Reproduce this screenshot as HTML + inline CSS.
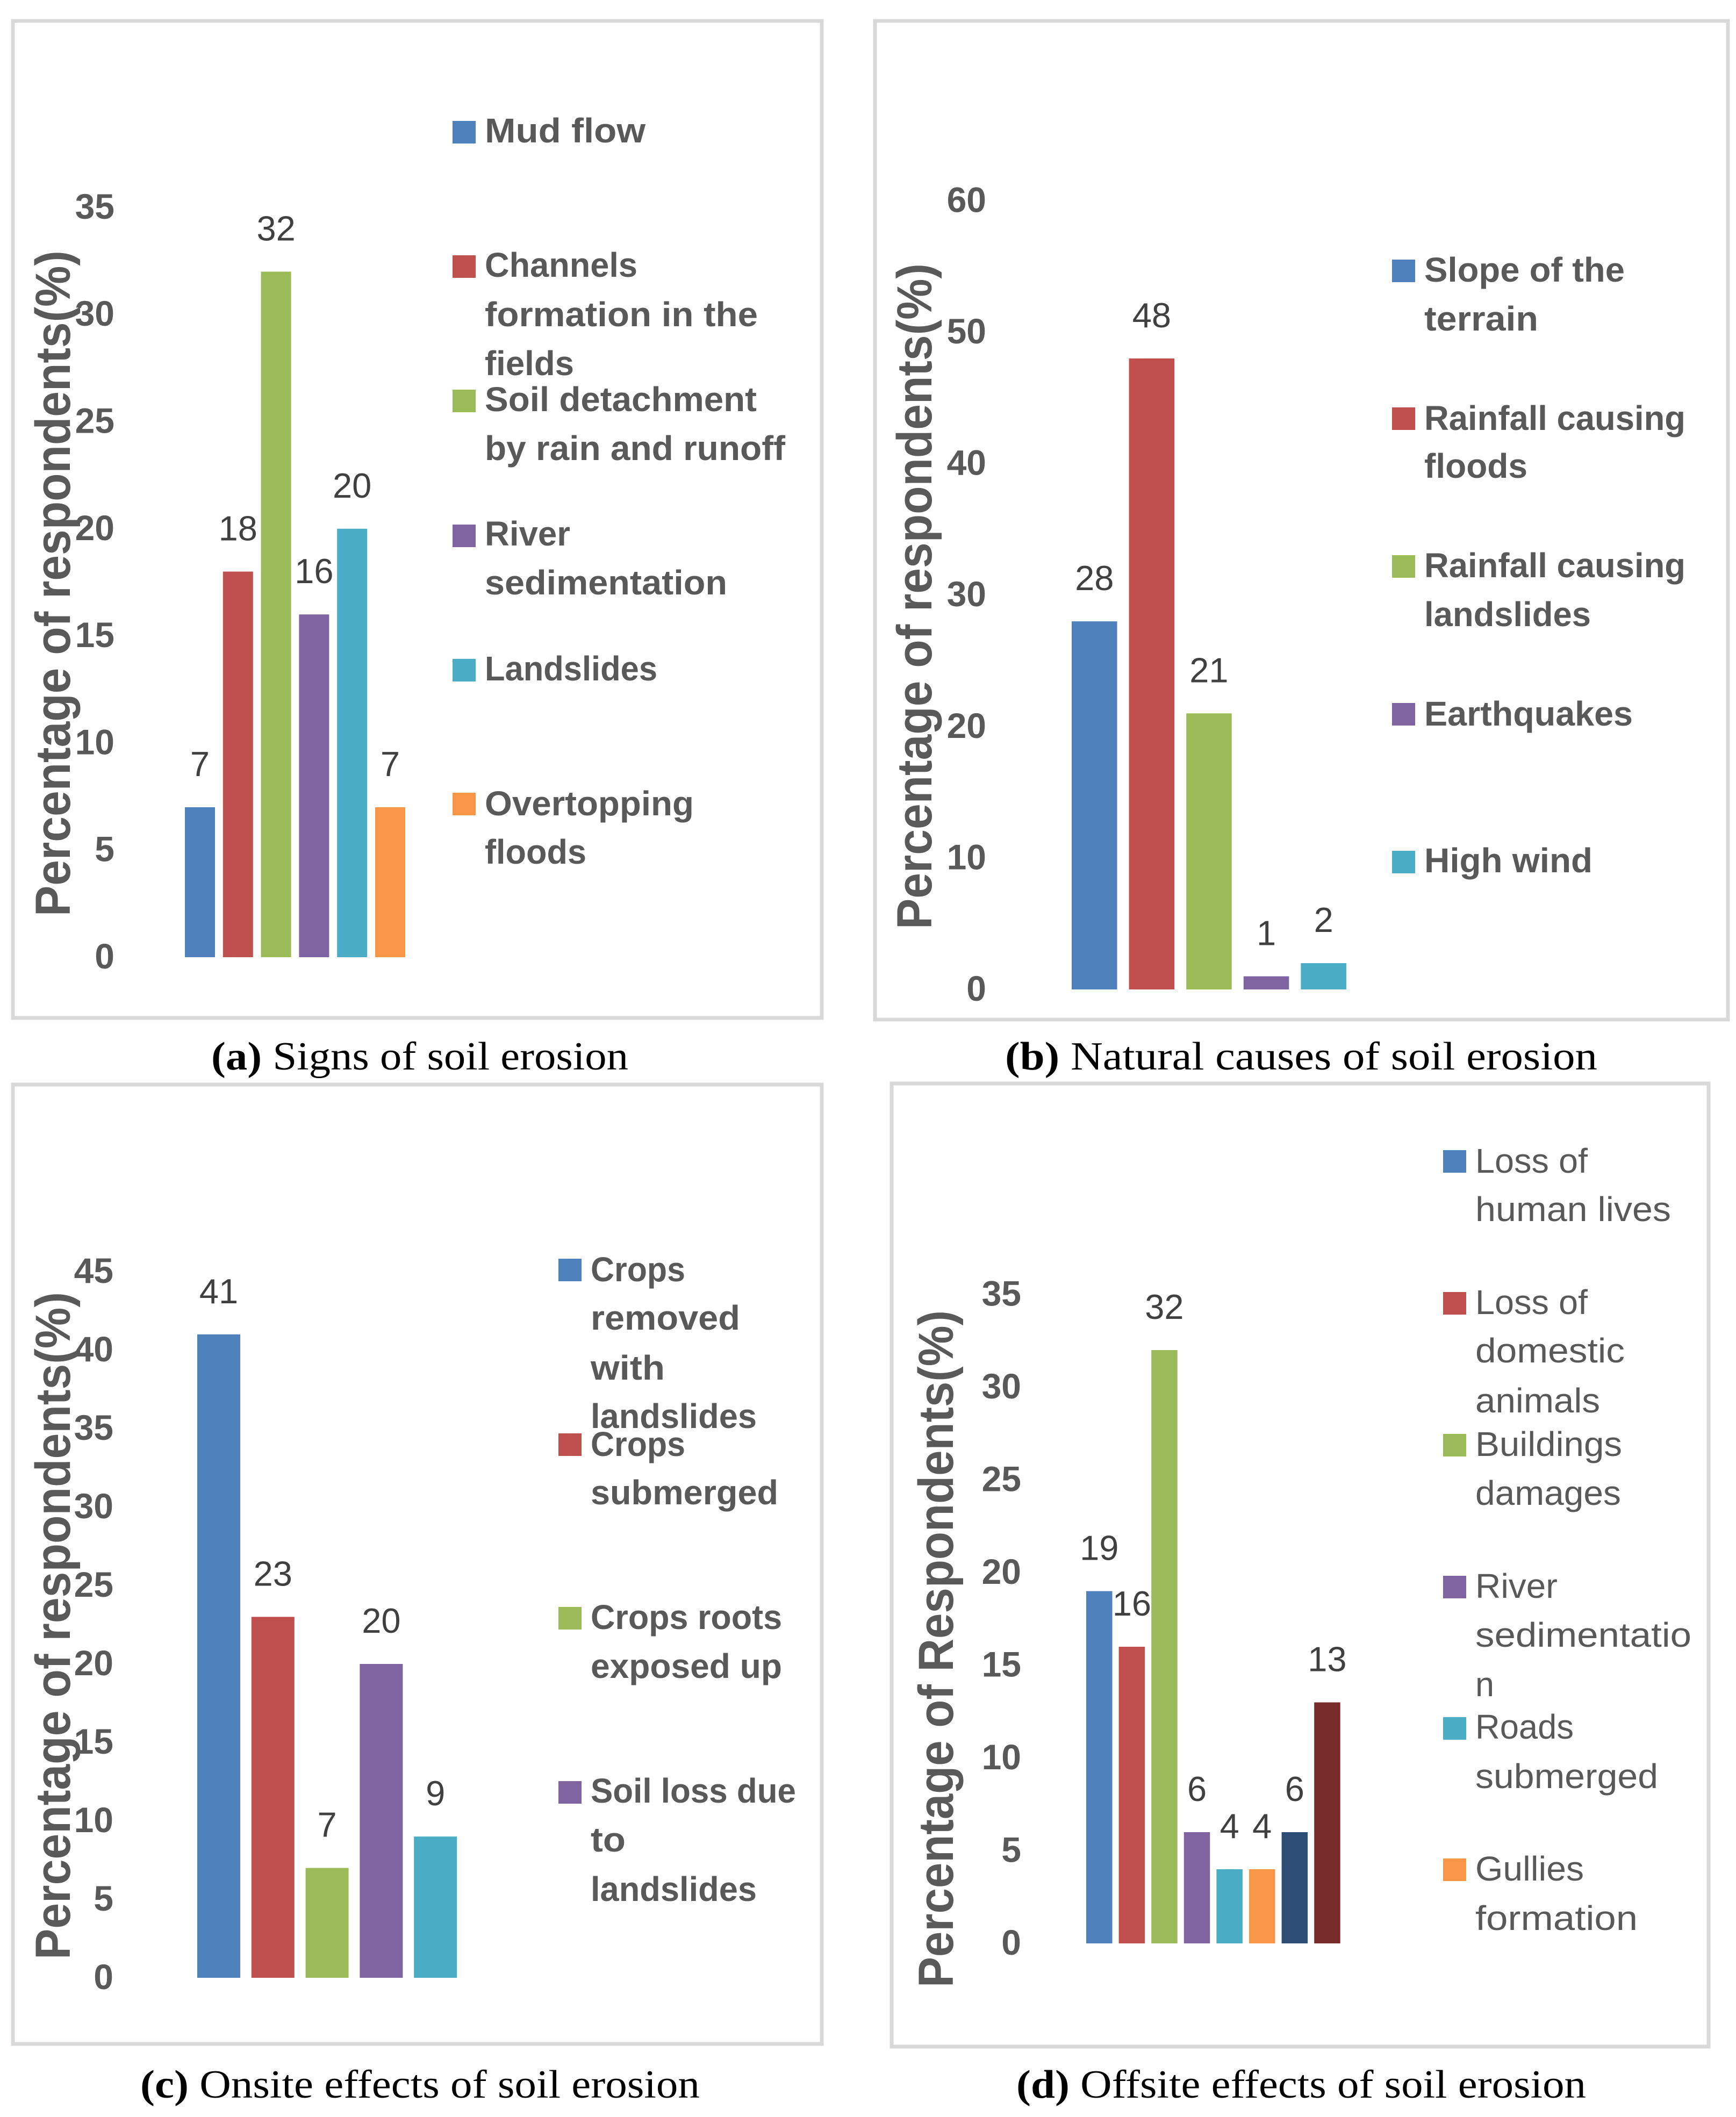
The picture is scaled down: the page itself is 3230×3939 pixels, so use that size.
<!DOCTYPE html>
<html lang="en">
<head>
<meta charset="utf-8">
<title>Soil erosion survey charts</title>
<style>
html,body{margin:0;padding:0;background:#fff;width:3230px;height:3939px;overflow:hidden}
svg{display:block}
.panel{fill:#fff;stroke:#d9d9d9;stroke-width:7}
.leg{font-family:"Liberation Sans",sans-serif;font-weight:700;font-size:64px;fill:#595959}
.legr{font-family:"Liberation Sans",sans-serif;font-weight:400;font-size:64px;fill:#595959}
.ttl{font-family:"Liberation Sans",sans-serif;font-weight:700;font-size:92px;fill:#595959}
.cap{font-family:"Liberation Serif",serif;font-size:74px;fill:#000}
.cap tspan{font-weight:700}
.tick{font-family:"Liberation Sans",sans-serif;font-weight:700;font-size:66px;fill:#595959;text-anchor:end}
.val{font-family:"Liberation Sans",sans-serif;font-weight:400;font-size:65px;fill:#404040;text-anchor:middle}
</style>
</head>
<body>
<svg id="figure" xmlns="http://www.w3.org/2000/svg" width="3230" height="3939" viewBox="0 0 3230 3939">
  <rect class="panel" x="24" y="39" width="1505" height="1855"/>
  <rect class="panel" x="1628" y="39" width="1587" height="1858"/>
  <rect class="panel" x="24" y="2018" width="1505" height="1785"/>
  <rect class="panel" x="1659" y="2016" width="1520" height="1792"/>

  <text class="ttl" transform="translate(130,1705) rotate(-90)" textLength="1239" lengthAdjust="spacingAndGlyphs">Percentage of respondents(%)</text>
  <text class="ttl" transform="translate(1733,1729) rotate(-90)" textLength="1239" lengthAdjust="spacingAndGlyphs">Percentage of respondents(%)</text>
  <text class="ttl" transform="translate(130,3646) rotate(-90)" textLength="1242" lengthAdjust="spacingAndGlyphs">Percentage of respondents(%)</text>
  <text class="ttl" transform="translate(1773,3698) rotate(-90)" textLength="1260" lengthAdjust="spacingAndGlyphs">Percentage of Respondents(%)</text>

  <g id="charts"></g>

  <g>
    <rect x="842" y="225" width="43" height="42" fill="#4F81BD"/>
    <text class="leg" x="902" y="265" textLength="299" lengthAdjust="spacingAndGlyphs">Mud flow</text>
    <rect x="842" y="475" width="43" height="42" fill="#C0504D"/>
    <text class="leg" x="902" y="515" textLength="284" lengthAdjust="spacingAndGlyphs">Channels</text>
    <text class="leg" x="902" y="607" textLength="508" lengthAdjust="spacingAndGlyphs">formation in the</text>
    <text class="leg" x="902" y="698" textLength="166" lengthAdjust="spacingAndGlyphs">fields</text>
    <rect x="842" y="725" width="43" height="42" fill="#9BBB59"/>
    <text class="leg" x="902" y="765" textLength="506" lengthAdjust="spacingAndGlyphs">Soil detachment</text>
    <text class="leg" x="902" y="856" textLength="559" lengthAdjust="spacingAndGlyphs">by rain and runoff</text>
    <rect x="842" y="976" width="43" height="42" fill="#8064A2"/>
    <text class="leg" x="902" y="1015" textLength="159" lengthAdjust="spacingAndGlyphs">River</text>
    <text class="leg" x="902" y="1106" textLength="451" lengthAdjust="spacingAndGlyphs">sedimentation</text>
    <rect x="842" y="1226" width="43" height="42" fill="#4BACC6"/>
    <text class="leg" x="902" y="1266" textLength="321" lengthAdjust="spacingAndGlyphs">Landslides</text>
    <rect x="842" y="1475" width="43" height="42" fill="#F79646"/>
    <text class="leg" x="902" y="1517" textLength="389" lengthAdjust="spacingAndGlyphs">Overtopping</text>
    <text class="leg" x="902" y="1607" textLength="189" lengthAdjust="spacingAndGlyphs">floods</text>
  </g>

  <g>
    <rect x="2590" y="483" width="43" height="42" fill="#4F81BD"/>
    <text class="leg" x="2650" y="524" textLength="373" lengthAdjust="spacingAndGlyphs">Slope of the</text>
    <text class="leg" x="2650" y="615" textLength="212" lengthAdjust="spacingAndGlyphs">terrain</text>
    <rect x="2590" y="758" width="43" height="42" fill="#C0504D"/>
    <text class="leg" x="2650" y="800" textLength="486" lengthAdjust="spacingAndGlyphs">Rainfall causing</text>
    <text class="leg" x="2650" y="889" textLength="192" lengthAdjust="spacingAndGlyphs">floods</text>
    <rect x="2590" y="1033" width="43" height="42" fill="#9BBB59"/>
    <text class="leg" x="2650" y="1074" textLength="486" lengthAdjust="spacingAndGlyphs">Rainfall causing</text>
    <text class="leg" x="2650" y="1165" textLength="310" lengthAdjust="spacingAndGlyphs">landslides</text>
    <rect x="2590" y="1308" width="43" height="42" fill="#8064A2"/>
    <text class="leg" x="2650" y="1350" textLength="388" lengthAdjust="spacingAndGlyphs">Earthquakes</text>
    <rect x="2590" y="1583" width="43" height="42" fill="#4BACC6"/>
    <text class="leg" x="2650" y="1623" textLength="313" lengthAdjust="spacingAndGlyphs">High wind</text>
  </g>

  <g>
    <rect x="1039" y="2342" width="43" height="42" fill="#4F81BD"/>
    <text class="leg" x="1099" y="2384" textLength="176" lengthAdjust="spacingAndGlyphs">Crops</text>
    <text class="leg" x="1099" y="2474" textLength="278" lengthAdjust="spacingAndGlyphs">removed</text>
    <text class="leg" x="1099" y="2567" textLength="138" lengthAdjust="spacingAndGlyphs">with</text>
    <text class="leg" x="1099" y="2657" textLength="309" lengthAdjust="spacingAndGlyphs">landslides</text>
    <rect x="1039" y="2667" width="43" height="42" fill="#C0504D"/>
    <text class="leg" x="1099" y="2709" textLength="176" lengthAdjust="spacingAndGlyphs">Crops</text>
    <text class="leg" x="1099" y="2799" textLength="349" lengthAdjust="spacingAndGlyphs">submerged</text>
    <rect x="1039" y="2990" width="43" height="42" fill="#9BBB59"/>
    <text class="leg" x="1099" y="3031" textLength="356" lengthAdjust="spacingAndGlyphs">Crops roots</text>
    <text class="leg" x="1099" y="3122" textLength="356" lengthAdjust="spacingAndGlyphs">exposed up</text>
    <rect x="1039" y="3314" width="43" height="42" fill="#8064A2"/>
    <text class="leg" x="1099" y="3354" textLength="382" lengthAdjust="spacingAndGlyphs">Soil loss due</text>
    <text class="leg" x="1099" y="3445" textLength="65" lengthAdjust="spacingAndGlyphs">to</text>
    <text class="leg" x="1099" y="3537" textLength="309" lengthAdjust="spacingAndGlyphs">landslides</text>
  </g>

  <g>
    <rect x="2685" y="2140" width="43" height="42" fill="#4F81BD"/>
    <text class="legr" x="2745" y="2182" textLength="209" lengthAdjust="spacingAndGlyphs">Loss of</text>
    <text class="legr" x="2745" y="2272" textLength="364" lengthAdjust="spacingAndGlyphs">human lives</text>
    <rect x="2685" y="2404" width="43" height="42" fill="#C0504D"/>
    <text class="legr" x="2745" y="2445" textLength="209" lengthAdjust="spacingAndGlyphs">Loss of</text>
    <text class="legr" x="2745" y="2535" textLength="278" lengthAdjust="spacingAndGlyphs">domestic</text>
    <text class="legr" x="2745" y="2628" textLength="232" lengthAdjust="spacingAndGlyphs">animals</text>
    <rect x="2685" y="2668" width="43" height="42" fill="#9BBB59"/>
    <text class="legr" x="2745" y="2709" textLength="273" lengthAdjust="spacingAndGlyphs">Buildings</text>
    <text class="legr" x="2745" y="2800" textLength="271" lengthAdjust="spacingAndGlyphs">damages</text>
    <rect x="2685" y="2932" width="43" height="42" fill="#8064A2"/>
    <text class="legr" x="2745" y="2973" textLength="153" lengthAdjust="spacingAndGlyphs">River</text>
    <text class="legr" x="2745" y="3064" textLength="402" lengthAdjust="spacingAndGlyphs">sedimentatio</text>
    <text class="legr" x="2745" y="3156" textLength="35" lengthAdjust="spacingAndGlyphs">n</text>
    <rect x="2685" y="3195" width="43" height="42" fill="#4BACC6"/>
    <text class="legr" x="2745" y="3235" textLength="183" lengthAdjust="spacingAndGlyphs">Roads</text>
    <text class="legr" x="2745" y="3327" textLength="340" lengthAdjust="spacingAndGlyphs">submerged</text>
    <rect x="2685" y="3458" width="43" height="42" fill="#F79646"/>
    <text class="legr" x="2745" y="3499" textLength="202" lengthAdjust="spacingAndGlyphs">Gullies</text>
    <text class="legr" x="2745" y="3591" textLength="302" lengthAdjust="spacingAndGlyphs">formation</text>
  </g>

  <text class="cap" x="393" y="1990" textLength="776" lengthAdjust="spacingAndGlyphs"><tspan>(a)</tspan> Signs of soil erosion</text>
  <text class="cap" x="1870" y="1990" textLength="1102" lengthAdjust="spacingAndGlyphs"><tspan>(b)</tspan> Natural causes of soil erosion</text>
  <text class="cap" x="261" y="3903" textLength="1041" lengthAdjust="spacingAndGlyphs"><tspan>(c)</tspan> Onsite effects of soil erosion</text>
  <text class="cap" x="1891" y="3903" textLength="1060" lengthAdjust="spacingAndGlyphs"><tspan>(d)</tspan> Offsite effects of soil erosion</text>
</svg>

<script>
// Chart data
var signsCategories = ["mud-flow","channels","soil-detachment","river-sedimentation","landslides","overtopping"];
var signsValues = [7,18,32,16,20,7];
var signsTicks = [0,5,10,15,20,25,30,35];

var naturalCategories = ["slope","rainfall-floods","rainfall-landslides","earthquakes","high-wind"];
var naturalValues = [28,48,21,1,2];
var naturalTicks = [0,10,20,30,40,50,60];

var onsiteCategories = ["crops-removed","crops-submerged","crops-roots","soil-loss","other"];
var onsiteValues = [41,23,7,20,9];
var onsiteTicks = [0,5,10,15,20,25,30,35,40,45];

var offsiteCategories = ["human-lives","domestic-animals","buildings","river-sedimentation","roads","gullies","other-1","other-2"];
var offsiteValues = [19,16,32,6,4,4,6,13];
var offsiteTicks = [0,5,10,15,20,25,30,35];

var seriesColors = ["#4F81BD","#C0504D","#9BBB59","#8064A2","#4BACC6","#F79646","#2C4D75","#772C2A"];

var SVGNS = "http://www.w3.org/2000/svg";
var host = document.getElementById("charts");

function drawChart(prefix, categories, values, ticks, layout) {
  function yScale(v) { return layout.baseY - v * layout.unit; }
  function xScale(i) { return layout.startX + i * layout.step; }

  ticks.forEach(function (t) {
    var label = document.createElementNS(SVGNS, "text");
    
    
    label.setAttribute("class", "tick");
    label.setAttribute("x", layout.tickX);
    label.setAttribute("y", yScale(t) + 21);
    label.textContent = String(t);
    host.appendChild(label);
  });

  values.forEach(function (v, i) {
    var bar = document.createElementNS(SVGNS, "rect");
    
    
    bar.setAttribute("x", xScale(i));
    bar.setAttribute("y", yScale(v));
    bar.setAttribute("width", layout.barW);
    bar.setAttribute("height", layout.baseY - yScale(v));
    bar.setAttribute("fill", seriesColors[i]);
    host.appendChild(bar);

    var val = document.createElementNS(SVGNS, "text");
    
    
    val.setAttribute("class", "val");
    val.setAttribute("x", xScale(i) + layout.barW / 2);
    val.setAttribute("y", yScale(v) - 58);
    val.textContent = String(v);
    host.appendChild(val);
  });
}

drawChart("a", signsCategories, signsValues, signsTicks,
  {baseY:1781, unit:39.86, startX:344, step:70.8, barW:56, tickX:213});
drawChart("b", naturalCategories, naturalValues, naturalTicks,
  {baseY:1841, unit:24.46, startX:1994, step:106.6, barW:84.5, tickX:1835});
drawChart("c", onsiteCategories, onsiteValues, onsiteTicks,
  {baseY:3680, unit:29.2, startX:367, step:100.8, barW:80, tickX:211});
drawChart("d", offsiteCategories, offsiteValues, offsiteTicks,
  {baseY:3616, unit:34.5, startX:2021, step:60.6, barW:48.5, tickX:1900});
</script>
</body>
</html>
